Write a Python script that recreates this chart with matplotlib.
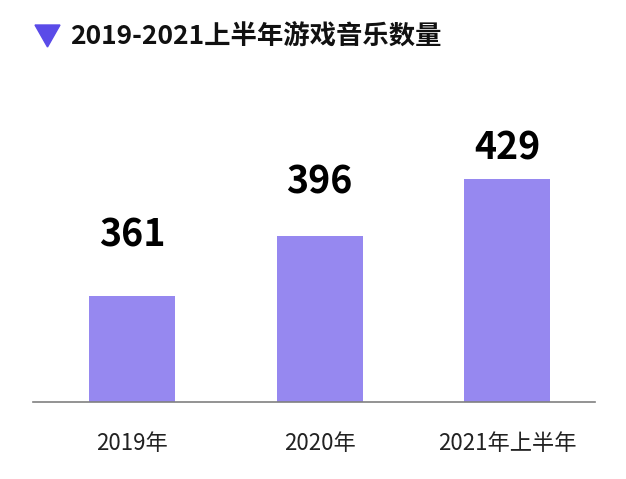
import matplotlib
matplotlib.use("Agg")
from matplotlib import pyplot as plt
from matplotlib.patches import Polygon

categories = ["2019年", "2020年", "2021年上半年"]
values = [361, 396, 429]
label_gap_px = [61, 54, 31]

plt.rcParams['font.family'] = ['Noto Sans CJK SC', 'DejaVu Sans']

fig = plt.figure(figsize=(6.26, 4.79), dpi=100)
ax = fig.add_axes([33/626, 1-401.5/479, (595-33)/626, (401.5-100)/479])

x = range(len(categories))
bars = ax.bar(x, values, width=0.46, color="#9688f0", zorder=2)
ax.set_xlim(-0.53, 2.47)
ax.set_ylim(300, 474.8)

for b, v, g in zip(bars, values, label_gap_px):
    ax.annotate(str(v), (b.get_x() + b.get_width()/2, v),
                xytext=(0, g*0.72), textcoords="offset points",
                ha="center", va="center", fontsize=27, fontweight="bold")

ax.set_xticks(list(x))
ax.set_xticklabels(categories, fontsize=16, color="#222222")
ax.tick_params(axis="x", length=0, pad=22)
ax.set_yticks([])
for s in ["top", "left", "right"]:
    ax.spines[s].set_visible(False)
ax.spines["bottom"].set_color("#808080")
ax.spines["bottom"].set_linewidth(1.2)

# title with triangle marker
tri = Polygon([[35/626, 1-25/479], [60/626, 1-25/479], [47.5/626, 1-47/479]],
              closed=True, transform=fig.transFigure, color="#5a4be8")
fig.patches.append(tri)
fig.text(70/626, 1-36/479, "2019-2021上半年游戏音乐数量", fontsize=19,
         fontweight="bold", va="center", ha="left", color="#111111")

fig.savefig("out.png", dpi=100)
